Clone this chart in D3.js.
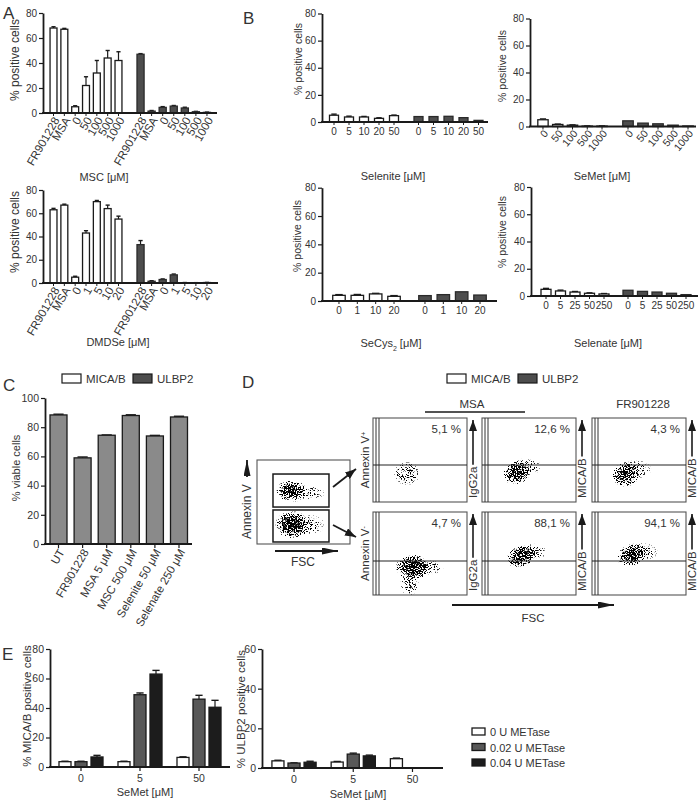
<!DOCTYPE html>
<html>
<head>
<meta charset="utf-8">
<style>
  body { margin: 0; background: #fff; }
  svg { display: block; font-family: "Liberation Sans", Arial, Helvetica, sans-serif; }
</style>
</head>
<body>
<script src="https://cdn.jsdelivr.net/npm/d3@7"></script>
<script>
// ---------- data ----------
// panel A
const mscLabels = ["FR901228", "MSA", "0", "50", "100", "500", "1000"];
const mscMica = [68, 67, 5, 22, 32, 44, 42];
const mscMicaErr = [1, 0.7, 0.8, 7, 10, 6, 7];
const mscUlbp = [47, 1.5, 4.5, 5.5, 4, 1, 0.5];
const mscUlbpErr = [0.5, 0.5, 0.6, 0.5, 0.6, 0.3, 0.2];

const dmdseLabels = ["FR901228", "MSA", "0", "1", "5", "10", "20"];
const dmdseMica = [63, 67, 5, 43, 70, 64, 55];
const dmdseMicaErr = [1.2, 0.8, 0.8, 2, 1, 3, 2.5];
const dmdseUlbp = [33, 1.5, 3, 7, 0.3, 0.2, 0.4];
const dmdseUlbpErr = [3.5, 0.5, 0.5, 0.7, 0.1, 0.1, 0.1];

// panel B
const seleniteLabels = ["0", "5", "10", "20", "50"];
const seleniteMica = [5, 3.7, 3.7, 2.7, 4.7];
const seleniteMicaErr = [0.8, 0.6, 0.4, 0.4, 0.4];
const seleniteUlbp = [4, 4, 4.2, 3.2, 1.2];

const semetLabels = ["0", "50", "100", "500", "1000"];
const semetMica = [5, 1.5, 1, 0.3, 0.3];
const semetMicaErr = [0.6, 0.3, 0.2, 0.1, 0.1];
const semetUlbp = [4.2, 2.5, 2, 1, 0.4];

const secysLabels = ["0", "1", "10", "20"];
const secysMica = [4, 4, 5, 3.3];
const secysMicaErr = [0.5, 0.6, 0.4, 0.5];
const secysUlbp = [3.8, 4.5, 6.5, 4.2];

const selenateLabels = ["0", "5", "25", "50", "250"];
const selenateMica = [4.9, 3.7, 2.9, 2, 1.5];
const selenateMicaErr = [0.7, 0.6, 0.4, 0.3, 0.3];
const selenateUlbp = [4.2, 3.4, 2.9, 2, 1];

// panel C
const viabLabels = ["UT", "FR901228", "MSA 5 μM", "MSC 500 μM", "Selenite 50 μM", "Selenate 250 μM"];
const viab = [88.4, 59, 74.5, 88, 74, 87];
const viabErr = [0.5, 0.6, 0.2, 0.5, 0.4, 0.5];

// panel D (flow cytometry, values in arbitrary 0-1000 units)
const flowPct = [["5,1 %", "12,6 %", "4,3 %"], ["4,7 %", "88,1 %", "94,1 %"]];
const flowSide = [["IgG2a", "MICA/B", "MICA/B"], ["IgG2a", "MICA/B", "MICA/B"]];
const flowGate = [440, 410];
// clouds: [fsc, fluor, spreadX, spreadY, density, angle]
const gateClouds = [[370, 630, 160, 130, 0.95, 0], [560, 610, 170, 90, 0.3, 0],
                    [380, 230, 180, 160, 1.05, 0], [560, 230, 170, 120, 0.35, 0]];
const gateBoxes = [[172, 774, 440, 833], [172, 774, 24, 405]];
const flowClouds = [
  [[[360, 340, 140, 140, 0.42, 0]],
   [[370, 350, 150, 135, 0.95, -20], [480, 420, 150, 100, 0.35, 0]],
   [[360, 330, 145, 145, 0.9, -15], [470, 390, 160, 110, 0.35, 0]]],
  [[[425, 335, 180, 150, 1.1, 0], [390, 130, 100, 140, 0.4, 0], [600, 330, 150, 90, 0.3, 0]],
   [[420, 470, 160, 130, 0.95, -25], [540, 520, 150, 100, 0.35, 0]],
   [[420, 480, 155, 130, 0.95, -20], [540, 520, 160, 110, 0.35, 0]]]
];

// panel E
const semetDoses = ["0", "5", "50"];
const metaseLevels = ["0 U METase", "0.02 U METase", "0.04 U METase"];
const eMica = [[3.6, 3.6, 6.8], [3.6, 49, 63], [6.5, 46, 40.5]];
const eMicaErr = [[0.3, 0.3, 1.1], [0.3, 1.2, 2.5], [0.4, 2.6, 4.7]];
const eUlbp = [[3.6, 2.5, 2.9], [3, 7, 6.1], [4.7, 0.1, 0.1]];
const eUlbpErr = [[0.3, 0.1, 0.5], [0.3, 0.5, 0.4], [0.3, 0, 0]];

// ---------- setup ----------
const ink = "#1a1a1a", txt = "#333";
const white = "#fff", dark = "#4d4d4d", mid = "#8a8a8a";
const eFill = ["#fff", "#585858", "#1c1c1c"];

const svg = d3.select("body").append("svg").attr("width", 700).attr("height", 803);
const defs = svg.append("defs");

function text(x, y, s, size, anchor) {
  return svg.append("text").attr("x", x).attr("y", y).attr("fill", txt)
    .attr("font-size", size).attr("text-anchor", anchor || "middle").text(s);
}
function yTitle(x, y, s, size) {
  svg.append("text").attr("transform", `translate(${x},${y}) rotate(-90)`).attr("dy", "0.35em")
    .attr("fill", txt).attr("font-size", size).attr("text-anchor", "middle").text(s);
}
function yAxis(g, y, x0, ticks, fs) {
  const a = g.append("g").attr("transform", `translate(${x0},0)`)
    .call(d3.axisLeft(y).tickValues(ticks).tickSize(4).tickPadding(2).tickSizeOuter(0));
  a.select(".domain").attr("stroke", ink).attr("stroke-width", 1.8);
  a.selectAll(".tick line").attr("stroke", ink).attr("stroke-width", 1.2);
  a.selectAll(".tick text").attr("fill", txt).attr("font-size", fs || 10).attr("font-family", null);
}
function errBar(g, cx, yBar, yTop, w) {
  g.append("line").attr("x1", cx).attr("x2", cx).attr("y1", yBar).attr("y2", yTop)
    .attr("stroke", ink).attr("stroke-width", 1.2);
  g.append("line").attr("x1", cx - w / 2).attr("x2", cx + w / 2).attr("y1", yTop).attr("y2", yTop)
    .attr("stroke", ink).attr("stroke-width", 1.4);
}

// simple bar panel: groups of bars sharing one y scale
function drawBars(cfg) {
  const g = svg.append("g");
  const y = d3.scaleLinear().domain([0, cfg.max]).range([cfg.y0, cfg.y1]);
  yAxis(g, y, cfg.ax[0], cfg.ticks, cfg.tickSize);
  cfg.groups.forEach(gr => {
    const x = d3.scaleBand().domain(gr.labels).range(gr.range)
      .paddingInner(cfg.pad).paddingOuter(cfg.pad / 2);
    const bw = x.bandwidth();
    gr.labels.forEach((lab, i) => {
      const v = gr.values[i];
      const cx = x(lab) + bw / 2;
      if (gr.errs) errBar(g, cx, y(v), y(v + gr.errs[i]), bw * 0.6);
      g.append("rect").attr("x", x(lab)).attr("width", bw)
        .attr("y", y(v)).attr("height", y(0) - y(v))
        .attr("fill", gr.fill).attr("stroke", gr.fill === white ? ink : "#2a2a2a").attr("stroke-width", 1.3);
      g.append("line").attr("x1", cx).attr("x2", cx).attr("y1", cfg.y0).attr("y2", cfg.y0 + 3)
        .attr("stroke", ink).attr("stroke-width", 1);
      const t = g.append("text").attr("fill", txt).attr("font-size", cfg.labelSize || 10).text(lab);
      if (cfg.rotate) {
        t.attr("transform", `translate(${cx + 3},${cfg.y0 + 5}) rotate(${cfg.rotate})`)
          .attr("dy", "0.35em").attr("text-anchor", "end");
      } else {
        t.attr("x", cx).attr("y", cfg.y0 + 13).attr("text-anchor", "middle");
      }
    });
  });
  g.append("line").attr("x1", cfg.ax[0] - 0.9).attr("x2", cfg.ax[1]).attr("y1", cfg.y0).attr("y2", cfg.y0)
    .attr("stroke", ink).attr("stroke-width", 1.8);
  if (cfg.yTitle) yTitle(cfg.yTitle[0], cfg.yTitle[1], "% positive cells", cfg.yTitle[2]);
}

// grouped bar panel (panel E)
function drawGrouped(cfg) {
  const g = svg.append("g");
  const y = d3.scaleLinear().domain([0, cfg.max]).range([cfg.y0, cfg.y1]);
  yAxis(g, y, cfg.ax[0], cfg.ticks, 10.5);
  const x0 = d3.scaleBand().domain(semetDoses).range(cfg.range).paddingInner(0.254).paddingOuter(0.127);
  const x1 = d3.scaleBand().domain(metaseLevels).range([0, x0.bandwidth()]).paddingInner(0.25);
  semetDoses.forEach((dose, gi) => {
    metaseLevels.forEach((lev, si) => {
      const v = cfg.values[gi][si];
      const bx = x0(dose) + x1(lev), bw = x1.bandwidth();
      if (cfg.errs[gi][si] > 0) errBar(g, bx + bw / 2, y(v), y(v + cfg.errs[gi][si]), bw * 0.6);
      g.append("rect").attr("x", bx).attr("width", bw).attr("y", y(v)).attr("height", y(0) - y(v))
        .attr("fill", eFill[si]).attr("stroke", ink).attr("stroke-width", 1.3);
    });
    const cx = x0(dose) + x0.bandwidth() / 2;
    g.append("line").attr("x1", cx).attr("x2", cx).attr("y1", cfg.y0).attr("y2", cfg.y0 + 4)
      .attr("stroke", ink).attr("stroke-width", 1.2);
    text(cx, cfg.y0 + 15, dose, 10.5);
  });
  g.append("line").attr("x1", cfg.ax[0] - 0.9).attr("x2", cfg.ax[1]).attr("y1", cfg.y0).attr("y2", cfg.y0)
    .attr("stroke", ink).attr("stroke-width", 1.8);
}

// ---------- panel A ----------
text(3, 19, "A", 17, "start");
const aRanges = [[48.1, 123.9], [135, 212.5]];
drawBars({ ax: [43, 217], y0: 113, y1: 13, max: 80, ticks: [0, 20, 40, 60, 80], pad: 0.36, rotate: -60, labelSize: 11.5,
  groups: [{ labels: mscLabels, values: mscMica, errs: mscMicaErr, fill: white, range: aRanges[0] },
           { labels: mscLabels, values: mscUlbp, errs: mscUlbpErr, fill: dark, range: aRanges[1] }],
  yTitle: [15, 60, 12] });
text(104, 181, "MSC [μM]", 11);
drawBars({ ax: [43, 218], y0: 283, y1: 190, max: 80, ticks: [0, 20, 40, 60, 80], pad: 0.36, rotate: -60, labelSize: 11.5,
  groups: [{ labels: dmdseLabels, values: dmdseMica, errs: dmdseMicaErr, fill: white, range: aRanges[0] },
           { labels: dmdseLabels, values: dmdseUlbp, errs: dmdseUlbpErr, fill: dark, range: aRanges[1] }],
  yTitle: [15, 232, 12] });
text(118, 346, "DMDSe [μM]", 11);

// ---------- panel B ----------
text(243, 24, "B", 17, "start");
drawBars({ ax: [322, 488], y0: 122, y1: 13.5, max: 80, ticks: [0, 20, 40, 60, 80], pad: 0.4,
  groups: [{ labels: seleniteLabels, values: seleniteMica, errs: seleniteMicaErr, fill: white, range: [326.5, 401.5] },
           { labels: seleniteLabels, values: seleniteUlbp, fill: dark, range: [411, 486] }],
  yTitle: [298, 59, 10.5] });
text(393, 180, "Selenite [μM]", 11);

drawBars({ ax: [530, 696], y0: 126.5, y1: 18.5, max: 80, ticks: [0, 20, 40, 60, 80], pad: 0.3, rotate: -50, labelSize: 10.5,
  groups: [{ labels: semetLabels, values: semetMica, errs: semetMicaErr, fill: white, range: [535.6, 609.4] },
           { labels: semetLabels, values: semetUlbp, fill: dark, range: [620.5, 695.5] }],
  yTitle: [502, 66, 10.5] });
text(602, 180, "SeMet [μM]", 11);

drawBars({ ax: [322, 497], y0: 301, y1: 187.7, max: 80, ticks: [0, 20, 40, 60, 80], pad: 0.32,
  groups: [{ labels: secysLabels, values: secysMica, errs: secysMicaErr, fill: white, range: [329.8, 403.2] },
           { labels: secysLabels, values: secysUlbp, fill: dark, range: [415.8, 489.2] }],
  yTitle: [297, 236, 10.5] });
const sc = text(391, 347, "SeCys", 11);
sc.append("tspan").attr("font-size", 7).attr("baseline-shift", "sub").text("2");
sc.append("tspan").text(" [μM]");

drawBars({ ax: [531, 698], y0: 296, y1: 187, max: 80, ticks: [0, 20, 40, 60, 80], pad: 0.31,
  groups: [{ labels: selenateLabels, values: selenateMica, errs: selenateMicaErr, fill: white, range: [538.75, 611.25] },
           { labels: selenateLabels, values: selenateUlbp, fill: dark, range: [620.75, 693.25] }],
  yTitle: [502, 232, 10.5] });
text(608, 347, "Selenate [μM]", 11);

// legends for B/C/D
function legend2(x) {
  svg.append("rect").attr("x", x).attr("y", 374).attr("width", 19).attr("height", 9)
    .attr("fill", white).attr("stroke", ink).attr("stroke-width", 1.2);
  text(x + 24, 383, "MICA/B", 11.5, "start");
  svg.append("rect").attr("x", x + 71).attr("y", 374).attr("width", 19).attr("height", 9)
    .attr("fill", dark).attr("stroke", ink).attr("stroke-width", 1.2);
  text(x + 95, 383, "ULBP2", 11.5, "start");
}
legend2(62);
legend2(447);

// ---------- panel C ----------
text(3, 391, "C", 17, "start");
{
  const g = svg.append("g");
  const y = d3.scaleLinear().domain([0, 100]).range([544, 398]);
  yAxis(g, y, 45, [0, 20, 40, 60, 80, 100], 10.5);
  const x = d3.scaleBand().domain(viabLabels).range([46.45, 191.05]).paddingInner(0.295).paddingOuter(0.1475);
  viabLabels.forEach((lab, i) => {
    const cx = x(lab) + x.bandwidth() / 2;
    errBar(g, cx, y(viab[i]), y(viab[i] + viabErr[i]), x.bandwidth() * 0.6);
    g.append("rect").attr("x", x(lab)).attr("width", x.bandwidth()).attr("y", y(viab[i]))
      .attr("height", y(0) - y(viab[i])).attr("fill", mid).attr("stroke", ink).attr("stroke-width", 1.3);
    g.append("line").attr("x1", cx).attr("x2", cx).attr("y1", 544).attr("y2", 548).attr("stroke", ink).attr("stroke-width", 1.2);
    g.append("text").attr("transform", `translate(${cx + 3},${550}) rotate(-60)`).attr("dy", "0.35em")
      .attr("text-anchor", "end").attr("fill", txt).attr("font-size", 11.5).text(lab);
  });
  g.append("line").attr("x1", 44.1).attr("x2", 192).attr("y1", 544).attr("y2", 544).attr("stroke", ink).attr("stroke-width", 1.8);
  yTitle(16, 468, "% viable cells", 11);
}

// ---------- panel D ----------
text(242, 388, "D", 17, "start");
function marker(id, len, wid) {
  defs.append("marker").attr("id", id).attr("markerUnits", "userSpaceOnUse")
    .attr("viewBox", `0 0 ${len} ${wid}`).attr("refX", len).attr("refY", wid / 2)
    .attr("markerWidth", len).attr("markerHeight", wid).attr("orient", "auto")
    .append("path").attr("d", `M0,0L${len},${wid / 2}L0,${wid}z`).attr("fill", ink);
}
marker("arrBig", 16, 7);
marker("arrSmall", 11, 8);
function arrow(x1, y1, x2, y2, m, w) {
  svg.append("line").attr("x1", x1).attr("y1", y1).attr("x2", x2).attr("y2", y2)
    .attr("stroke", ink).attr("stroke-width", w || 1.6).attr("marker-end", `url(#${m})`);
}

// speckle filter: contrast-stretched noise thresholded by the cloud's density
const filt = defs.append("filter").attr("id", "speckle").attr("filterUnits", "userSpaceOnUse")
  .attr("x", 0).attr("y", 0).attr("width", 700).attr("height", 803)
  .attr("color-interpolation-filters", "sRGB");
filt.append("feTurbulence").attr("type", "fractalNoise").attr("baseFrequency", 0.85)
  .attr("numOctaves", 2).attr("seed", 5).attr("result", "noise");
const stretch = filt.append("feComponentTransfer").attr("in", "noise").attr("result", "ns");
stretch.append("feFuncR").attr("type", "linear").attr("slope", 3.2).attr("intercept", -1.1);
filt.append("feColorMatrix").attr("in", "ns").attr("type", "matrix")
  .attr("values", "0 0 0 0 0  0 0 0 0 0  0 0 0 0 0  1 0 0 0 0").attr("result", "n");
filt.append("feComposite").attr("in", "n").attr("in2", "SourceGraphic").attr("operator", "arithmetic")
  .attr("k1", 0).attr("k2", 1).attr("k3", 1).attr("k4", -1).attr("result", "c");
filt.append("feComponentTransfer").attr("in", "c")
  .append("feFuncA").attr("type", "linear").attr("slope", 5).attr("intercept", 0);

const grad = defs.append("radialGradient").attr("id", "cloudG");
[[0, 1], [0.4, 0.88], [0.75, 0.5], [1, 0.12]].forEach(s =>
  grad.append("stop").attr("offset", s[0]).attr("stop-color", "#000").attr("stop-opacity", s[1]));

let clipN = 0;
function flowPlot(x0, x1, yb, yt, clouds) {
  const fx = d3.scaleLinear().domain([0, 1000]).range([x0, x1]);
  const fy = d3.scaleLinear().domain([0, 1000]).range([yb, yt]);
  const id = "clip" + (clipN++);
  defs.append("clipPath").attr("id", id).append("rect")
    .attr("x", x0).attr("y", yt).attr("width", x1 - x0).attr("height", yb - yt);
  const g = svg.append("g").attr("clip-path", `url(#${id})`).append("g").attr("filter", "url(#speckle)");
  clouds.forEach(c => {
    g.append("ellipse").attr("cx", 0).attr("cy", 0)
      .attr("rx", fx(c[2]) - fx(0)).attr("ry", fy(0) - fy(c[3]))
      .attr("transform", `translate(${fx(c[0])},${fy(c[1])}) rotate(${c[5]})`)
      .attr("fill", "url(#cloudG)").attr("fill-opacity", Math.min(1, c[4] * 0.95));
  });
  svg.append("rect").attr("x", x0).attr("y", yt).attr("width", x1 - x0).attr("height", yb - yt)
    .attr("fill", "none").attr("stroke", "#555").attr("stroke-width", 1.1);
  return { fx, fy };
}

// gating plot
{
  const p = flowPlot(257, 350, 544, 460, gateClouds);
  gateBoxes.forEach(b => {
    svg.append("rect").attr("x", p.fx(b[0])).attr("y", p.fy(b[3]))
      .attr("width", p.fx(b[1]) - p.fx(b[0])).attr("height", p.fy(b[2]) - p.fy(b[3]))
      .attr("fill", "none").attr("stroke", ink).attr("stroke-width", 1.5);
  });
  svg.append("text").attr("transform", "translate(251,539) rotate(-90)").attr("fill", txt)
    .attr("font-size", 12).text("Annexin V");
  arrow(247, 477, 247, 460, "arrBig", 1.8);
  arrow(275, 551, 338, 551, "arrBig", 1.8);
  text(303, 566, "FSC", 12);
  arrow(333, 487, 356, 469, "arrSmall", 1.8);
  arrow(333, 525, 356, 537, "arrSmall", 1.8);
}

const colX = [[373, 467], [482, 576], [592, 686]];
const rowY = [[502, 418], [595, 512]];
rowY.forEach((ry, r) => {
  colX.forEach((cx, c) => {
    const p = flowPlot(cx[0], cx[1], ry[0], ry[1], flowClouds[r][c]);
    [3, 6].forEach(dx => svg.append("line").attr("x1", cx[0] + dx).attr("x2", cx[0] + dx)
      .attr("y1", ry[1]).attr("y2", ry[0]).attr("stroke", "#333").attr("stroke-width", 1));
    svg.append("line").attr("x1", cx[0]).attr("x2", cx[1]).attr("y1", p.fy(flowGate[r])).attr("y2", p.fy(flowGate[r]))
      .attr("stroke", "#222").attr("stroke-width", 1.1);
    text(cx[1] - 6, ry[1] + 15, flowPct[r][c], 11.5, "end");
    // side label with arrow to the right of each plot
    const lx = cx[1] + 6;
    const t = svg.append("text").attr("transform", `translate(${lx + 4},${ry[0] - 4}) rotate(-90)`)
      .attr("fill", txt).attr("font-size", 11.5).text(flowSide[r][c]);
    const len = t.node().getComputedTextLength();
    arrow(lx, ry[0] - 6 - len, lx, ry[1] + 2, "arrSmall", 1.6);
  });
  const al = svg.append("text").attr("transform", `translate(369,${(ry[0] + ry[1]) / 2}) rotate(-90)`)
    .attr("fill", txt).attr("font-size", 11.5).attr("text-anchor", "middle").text("Annexin V");
  al.append("tspan").attr("font-size", 7).attr("baseline-shift", "super").text(r === 0 ? "+" : "-");
});
text(472, 408, "MSA", 11.5);
svg.append("line").attr("x1", 425).attr("x2", 525).attr("y1", 412).attr("y2", 412).attr("stroke", ink).attr("stroke-width", 1.3);
text(643, 408, "FR901228", 11.5);
arrow(452, 605, 614, 605, "arrBig", 1.8);
text(533, 622, "FSC", 11.5);

// ---------- panel E ----------
text(2, 660, "E", 17, "start");
drawGrouped({ ax: [50, 230], y0: 767, y1: 649, max: 80, ticks: [0, 20, 40, 60, 80], range: [51.5, 228.5], values: eMica, errs: eMicaErr });
yTitle(27, 706, "% MICA/B positive cells", 11.5);
text(145, 796, "SeMet [μM]", 11);
drawGrouped({ ax: [262, 443], y0: 768, y1: 649, max: 60, ticks: [0, 20, 40, 60], range: [264.4, 442.1], values: eUlbp, errs: eUlbpErr });
yTitle(241, 709, "% ULBP2 positive cells", 11.5);
text(358, 798, "SeMet [μM]", 11);

metaseLevels.forEach((lev, i) => {
  svg.append("rect").attr("x", 472).attr("y", 728 + i * 15.5).attr("width", 13).attr("height", 7)
    .attr("fill", eFill[i]).attr("stroke", ink).attr("stroke-width", 1.3);
  text(490, 736 + i * 15.5, lev, 11, "start");
});
</script>
</body>
</html>
